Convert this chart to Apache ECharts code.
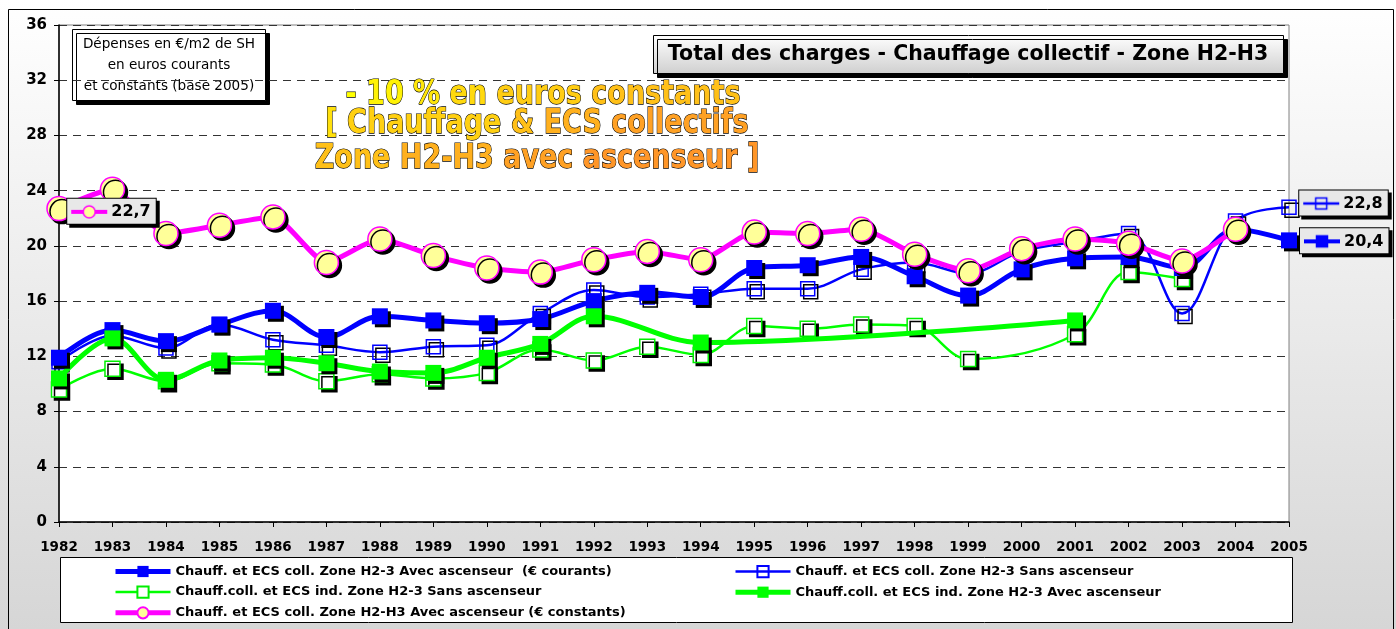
<!DOCTYPE html>
<html>
<head>
<meta charset="utf-8">
<script src="https://cdn.jsdelivr.net/npm/echarts@6.0.0/dist/echarts.min.js"></script>
<style>
  html, body { margin: 0; padding: 0; }
  #chart { width: 1396px; height: 629px; }
</style>
</head>
<body>
<div id="chart"></div>
<script>
// années (axe des x)
const years = ['1982','1983','1984','1985','1986','1987','1988','1989','1990','1991','1992','1993',
  '1994','1995','1996','1997','1998','1999','2000','2001','2002','2003','2004','2005'];
const yTicks = [0, 4, 8, 12, 16, 20, 24, 28, 32, 36];

// Chauff. et ECS coll. Zone H2-3 Avec ascenseur (€ courants)
const collAvecCourants = [11.9, 13.9, 13.1, 14.3, 15.3, 13.4, 14.9, 14.6, 14.4, 14.7, 16.0, 16.6,
  16.3, 18.4, 18.6, 19.2, 17.8, 16.4, 18.3, 19.1, 19.2, 18.4, 21.2, 20.4];
// Chauff. et ECS coll. Zone H2-3 Sans ascenseur
const collSans = [11.6, 13.5, 12.6, 14.3, 13.2, 12.8, 12.3, 12.7, 12.8, 15.1, 16.8, 16.3,
  16.5, 16.9, 16.9, 18.3, 18.8, 18.0, 19.6, 20.3, 20.9, 15.1, 21.8, 22.8];
// Chauff.coll. et ECS ind. Zone H2-3 Sans ascenseur
const indSans = [9.6, 11.1, 10.2, 11.5, 11.4, 10.2, 10.7, 10.4, 10.8, 12.5, 11.7, 12.7,
  12.1, 14.2, 14.0, 14.3, 14.2, 11.8, null, 13.6, 18.1, 17.6, null, null];
// Chauff.coll. et ECS ind. Zone H2-3 Avec ascenseur
const indAvec = [10.4, 13.3, 10.3, 11.7, 11.9, 11.5, 10.9, 10.8, 11.9, 12.9, 14.9, null,
  13.0, null, null, null, null, null, null, 14.6, null, null, null, null];
// Chauff. et ECS coll. Zone H2-H3 Avec ascenseur (€ constants)
const collAvecConstants = [22.7, 24.1, 20.9, 21.5, 22.1, 18.8, 20.5, 19.3, 18.4, 18.1, 19.0, 19.6,
  19.0, 21.0, 20.9, 21.2, 19.4, 18.2, 19.8, 20.5, 20.2, 18.9, 21.2, null];

const names = [
  'Chauff. et ECS coll. Zone H2-3 Avec ascenseur  (€ courants)',
  'Chauff. et ECS coll. Zone H2-3 Sans ascenseur',
  'Chauff.coll. et ECS ind. Zone H2-3 Sans ascenseur',
  'Chauff.coll. et ECS ind. Zone H2-3 Avec ascenseur',
  'Chauff. et ECS coll. Zone H2-H3 Avec ascenseur (€ constants)'
];
const bigText = ['- 10 % en euros constants', '[ Chauffage & ECS collectifs', 'Zone H2-H3 avec ascenseur ]'];

const FONT = '"DejaVu Sans", Verdana, sans-serif';
const shadow = { shadowColor: '#000', shadowOffsetX: 3, shadowOffsetY: 3, shadowBlur: 0 };

// petit dessin de la clé de légende pour les étiquettes
function keyImg(color, lw, sym, fill) {
  const c = document.createElement('canvas');
  c.width = 38; c.height = 16;
  const ctx = c.getContext('2d');
  ctx.strokeStyle = color;
  ctx.lineWidth = lw;
  ctx.beginPath(); ctx.moveTo(1, 8); ctx.lineTo(37, 8); ctx.stroke();
  ctx.lineWidth = 1.5;
  ctx.fillStyle = fill;
  if (sym === 'circle') {
    ctx.beginPath(); ctx.arc(19, 8, 6, 0, Math.PI * 2); ctx.fill(); ctx.stroke();
  } else {
    if (fill !== 'none') ctx.fillRect(13, 2, 12, 12);
    ctx.strokeRect(13.5, 2.5, 11, 11);
  }
  return c;
}

function endLabel(img, pos) {
  return {
    show: true,
    position: pos,
    formatter: (p) => '{k|}{v|' + p.value.toFixed(1).replace('.', ',') + '}',
    backgroundColor: '#e8e8e8',
    borderColor: '#000',
    borderWidth: 1,
    padding: [5, 5, 4, 3],
    shadowColor: '#000', shadowOffsetX: 3, shadowOffsetY: 3, shadowBlur: 0,
    rich: {
      k: { backgroundColor: { image: img }, width: 38, height: 16 },
      v: { fontFamily: FONT, fontWeight: 'bold', fontSize: 16, color: '#000', padding: [0, 0, 0, 3] }
    }
  };
}

function withLabel(arr, idx, label) {
  return arr.map((v, i) => (i === idx ? { value: v, label: label } : v));
}

// dégradé jaune -> orange, mot par mot
function mix(t) {
  const a = [255, 255, 0], b = [255, 150, 40];
  const c = a.map((v, i) => Math.round(v + (b[i] - v) * t));
  return 'rgb(' + c.join(',') + ')';
}
function wordArt(line, li) {
  const words = line.split(' ');
  const rich = {};
  const parts = words.map((w, j) => {
    const t = Math.min(1, (j / Math.max(1, words.length - 1)) * 0.6 + li * 0.3);
    rich['w' + j] = { fill: mix(t), stroke: '#000', lineWidth: 1, font: 'bold 27px ' + FONT };
    return '{w' + j + '|' + w + '}';
  });
  return { text: parts.join(' '), rich: rich };
}

const chart = echarts.init(document.getElementById('chart'));

chart.setOption({
  animation: false,
  backgroundColor: new echarts.graphic.LinearGradient(0, 0, 0, 1, [
    { offset: 0, color: '#ffffff' },
    { offset: 1, color: '#d6d6d6' }
  ]),
  grid: {
    left: 59, right: 107, top: 25, bottom: 107,
    show: true, backgroundColor: '#ffffff', borderColor: '#808080', borderWidth: 1
  },
  xAxis: {
    type: 'category',
    data: years,
    boundaryGap: false,
    axisLine: { lineStyle: { color: '#000', width: 1.5 } },
    axisTick: { show: true, length: 5, lineStyle: { color: '#000' } },
    axisLabel: { interval: 0, margin: 18, color: '#000', fontFamily: FONT, fontWeight: 'bold', fontSize: 13.5 },
    splitLine: { show: false }
  },
  yAxis: {
    type: 'value',
    min: yTicks[0], max: yTicks[yTicks.length - 1], interval: 4,
    axisLine: { show: true, lineStyle: { color: '#000', width: 1.5 } },
    axisTick: { show: true, length: 5, lineStyle: { color: '#000' } },
    axisLabel: { margin: 12, color: '#000', fontFamily: FONT, fontWeight: 'bold', fontSize: 15 },
    splitLine: { lineStyle: { color: '#333', type: [8, 6], width: 1 } }
  },
  legend: [
    {
      data: [names[0], names[2], names[4]],
      orient: 'vertical', left: 113, top: 565, itemGap: 7.5, padding: 0,
      itemWidth: 55, itemHeight: 14,
      lineStyle: { width: 'inherit' },
      itemStyle: { shadowColor: 'transparent', shadowOffsetX: 0, shadowOffsetY: 0 },
      textStyle: { fontFamily: FONT, fontWeight: 'bold', fontSize: 13, color: '#000' }
    },
    {
      data: [names[1], names[3]],
      orient: 'vertical', left: 733, top: 565, itemGap: 7.5, padding: 0,
      itemWidth: 55, itemHeight: 14,
      lineStyle: { width: 'inherit' },
      itemStyle: { shadowColor: 'transparent', shadowOffsetX: 0, shadowOffsetY: 0 },
      textStyle: { fontFamily: FONT, fontWeight: 'bold', fontSize: 13, color: '#000' }
    }
  ],
  graphic: [
    // cadre extérieur
    { type: 'rect', z: 100, silent: true,
      shape: { x: 8.5, y: 9.5, width: 1385, height: 640 },
      style: { fill: 'none', stroke: '#000', lineWidth: 1 } },
    // cadre de la légende
    { type: 'rect', z: -1, silent: true,
      shape: { x: 60.5, y: 557.5, width: 1232, height: 65 },
      style: { fill: '#fff', stroke: '#000', lineWidth: 1 } },
    // note en haut à gauche
    { type: 'group', left: 72, top: 29, z: 50, children: [
      { type: 'rect', shape: { x: 0.5, y: 0.5, width: 193, height: 71 },
        style: { fill: '#fff', stroke: '#000', lineWidth: 1, shadowColor: '#000', shadowOffsetX: 4, shadowOffsetY: 4, shadowBlur: 0 } },
      { type: 'text', style: { x: 97, y: 36, text: 'Dépenses en €/m2 de SH\nen euros courants\net constants (base 2005)',
        align: 'center', verticalAlign: 'middle', font: '13.6px ' + FONT, lineHeight: 21, fill: '#000' } }
    ] },
    // titre
    { type: 'group', left: 653, top: 35, z: 50, children: [
      { type: 'rect', shape: { x: 0.5, y: 0.5, width: 630, height: 38 },
        style: { fill: new echarts.graphic.LinearGradient(0, 0, 0, 1, [
            { offset: 0, color: '#ffffff' }, { offset: 1, color: '#cfcfcf' }]),
          stroke: '#000', lineWidth: 1, shadowColor: '#000', shadowOffsetX: 4, shadowOffsetY: 4, shadowBlur: 0 } },
      { type: 'text', style: { x: 315, y: 20, text: 'Total des charges - Chauffage collectif - Zone H2-H3',
        align: 'center', verticalAlign: 'middle', font: 'bold 20.5px ' + FONT, fill: '#000' } }
    ] },
    // texte "WordArt"
    ...bigText.map((t, i) => {
      const wa = wordArt(t, i);
      return {
        type: 'text', z: 40, x: [543, 537, 537][i], y: [95, 124, 159][i], scaleY: 1.25,
        style: {
          text: wa.text, rich: wa.rich, align: 'center', verticalAlign: 'middle',
          font: 'bold 27px ' + FONT, fill: '#ffcc00', stroke: '#000', lineWidth: 1,
          shadowColor: 'rgba(0,0,0,0.4)', shadowOffsetX: 3, shadowOffsetY: 3, shadowBlur: 0
        }
      };
    })
  ],
  series: [
    {
      name: names[0], type: 'line', smooth: 0.35, z: 3,
      data: withLabel(collAvecCourants, 23, endLabel(keyImg('#0000ff', 4, 'rect', '#0000ff'), [19, -4])),
      symbol: 'rect', symbolSize: 16,
      lineStyle: { color: '#0000ff', width: 5 },
      itemStyle: Object.assign({ color: '#0000ff' }, shadow),
      emphasis: { disabled: true }
    },
    {
      name: names[1], type: 'line', smooth: 0.35, z: 2,
      data: withLabel(collSans, 23, endLabel(keyImg('#0000ff', 2.5, 'rect', 'none'), [18, -9])),
      symbol: 'rect', symbolSize: 14,
      lineStyle: { color: '#0000ff', width: 2.5 },
      itemStyle: Object.assign({ color: 'rgba(255,255,255,0)', borderColor: '#0000ff', borderWidth: 1.5 }, shadow),
      emphasis: { disabled: true }
    },
    {
      name: names[2], type: 'line', smooth: 0.35, z: 2, connectNulls: true,
      data: indSans,
      symbol: 'rect', symbolSize: 15,
      lineStyle: { color: '#00ff00', width: 2.5 },
      itemStyle: Object.assign({ color: '#ffffff', borderColor: '#00ee00', borderWidth: 1.5 }, shadow),
      emphasis: { disabled: true }
    },
    {
      name: names[3], type: 'line', smooth: 0.35, z: 3, connectNulls: true,
      data: indAvec,
      symbol: 'rect', symbolSize: 16,
      lineStyle: { color: '#00ff00', width: 5 },
      itemStyle: Object.assign({ color: '#00ff00' }, shadow),
      emphasis: { disabled: true }
    },
    {
      name: names[4], type: 'line', smooth: 0.2, z: 4,
      data: withLabel(collAvecConstants, 0, endLabel(keyImg('#ff00ff', 4, 'circle', '#ffff99'), [21, 3])),
      symbol: 'circle', symbolSize: 24,
      lineStyle: { color: '#ff00ff', width: 5 },
      itemStyle: Object.assign({ color: '#ffff99', borderColor: '#ff00ff', borderWidth: 1.5 }, shadow),
      emphasis: { disabled: true }
    }
  ]
});
</script>
</body>
</html>
